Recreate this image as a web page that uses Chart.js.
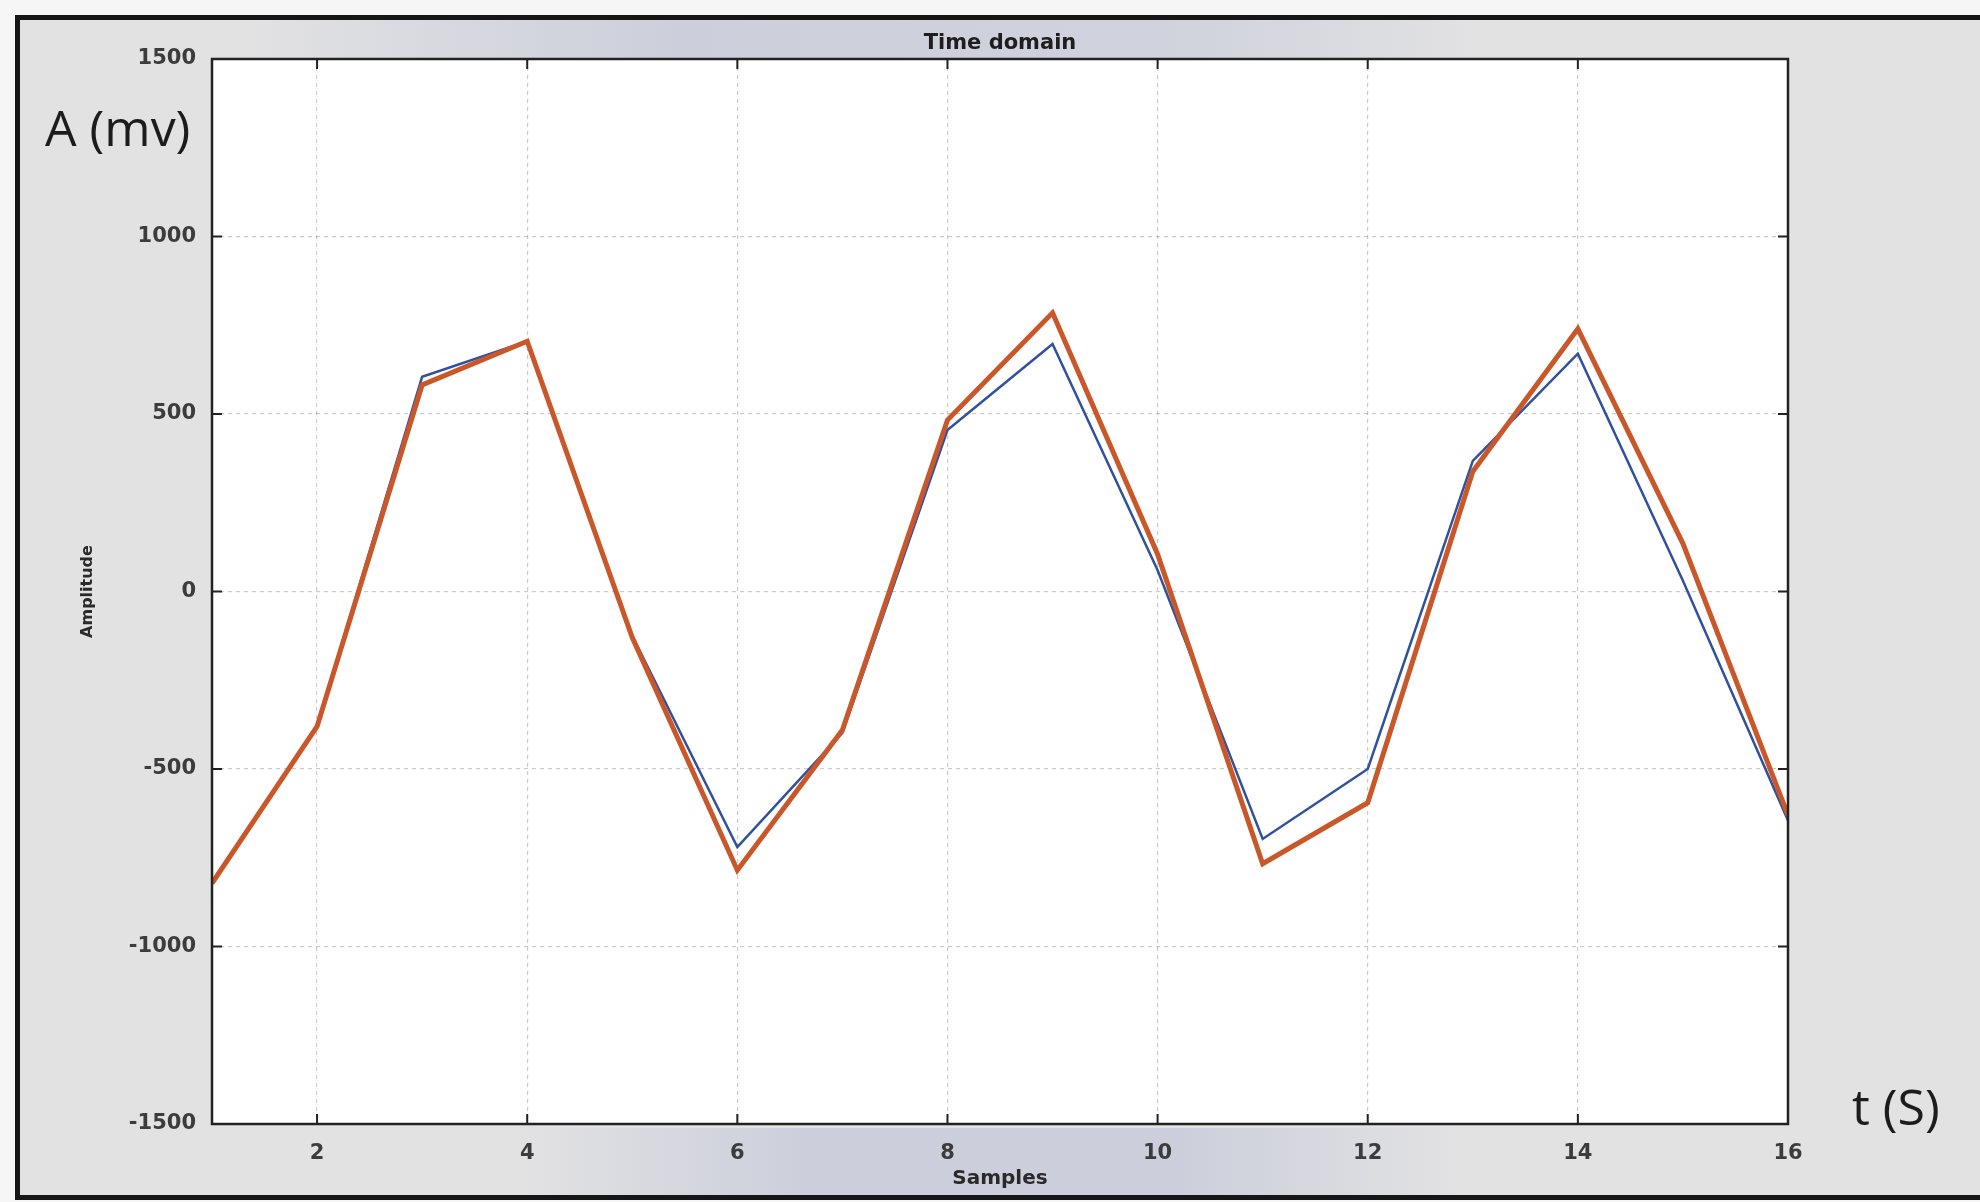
<!DOCTYPE html>
<html>
<head>
<meta charset="utf-8">
<title>Time domain</title>
<script src="https://cdn.jsdelivr.net/npm/chart.js@4/dist/chart.umd.min.js"></script>
<style>
  html, body { margin: 0; padding: 0; background: #fff; overflow: hidden; }
  canvas { display: block; }
</style>
</head>
<body>
<canvas id="chart" width="1980" height="1202"></canvas>
<script>
// samples (x) and the two traces
const samples = [1, 2, 3, 4, 5, 6, 7, 8, 9, 10, 11, 12, 13, 14, 15, 16];
const blueTrace = [-822, -380, 605, 705, -125, -720, -398, 455, 697, 60, -697, -500, 368, 670, 30, -645];
const orangeTrace = [-822, -380, 582, 705, -130, -785, -390, 483, 785, 105, -767, -595, 338, 740, 135, -630];

const xTicks = [1, 2, 4, 6, 8, 10, 12, 14, 16];
const yTicks = [-1500, -1000, -500, 0, 500, 1000, 1500];

const tickFont = { family: 'DejaVu Sans', size: 21, weight: 'bold' };
const gridColor = 'rgba(130, 130, 130, 0.42)';

// paper background, frame, box, inward ticks and the hand-written labels
const paper = {
  id: 'paper',
  beforeDraw(chart) {
    const { ctx, width, height, chartArea: a } = chart;
    ctx.save();
    ctx.fillStyle = '#f6f6f6';
    ctx.fillRect(0, 0, width, height);
    ctx.fillStyle = '#e2e2e3';
    ctx.fillRect(16, 18, width - 16, height - 22);

    // bluish scan bands behind title and x labels
    let g = ctx.createLinearGradient(240, 0, 1480, 0);
    g.addColorStop(0, 'rgba(190, 194, 214, 0)');
    g.addColorStop(0.35, 'rgba(190, 194, 214, 0.6)');
    g.addColorStop(0.75, 'rgba(190, 194, 214, 0.5)');
    g.addColorStop(1, 'rgba(190, 194, 214, 0)');
    ctx.fillStyle = g;
    ctx.fillRect(240, 20, 1240, a.top - 20);

    g = ctx.createLinearGradient(520, 0, 1460, 0);
    g.addColorStop(0, 'rgba(190, 194, 214, 0)');
    g.addColorStop(0.3, 'rgba(190, 194, 214, 0.6)');
    g.addColorStop(0.7, 'rgba(190, 194, 214, 0.6)');
    g.addColorStop(1, 'rgba(190, 194, 214, 0)');
    ctx.fillStyle = g;
    ctx.fillRect(520, a.bottom + 4, 940, height - a.bottom - 10);

    ctx.fillStyle = '#ffffff';
    ctx.fillRect(a.left, a.top, a.right - a.left, a.bottom - a.top);
    ctx.restore();
  },
  afterDraw(chart) {
    const { ctx, width, height, chartArea: a, scales } = chart;
    ctx.save();

    // outer frame
    ctx.strokeStyle = '#161616';
    ctx.lineWidth = 5;
    ctx.beginPath();
    ctx.moveTo(width, 17.5);
    ctx.lineTo(17.5, 17.5);
    ctx.lineTo(17.5, height - 4.5);
    ctx.lineTo(width, height - 4.5);
    ctx.stroke();

    // plot box
    ctx.strokeStyle = '#222';
    ctx.lineWidth = 2.5;
    ctx.strokeRect(a.left, a.top, a.right - a.left, a.bottom - a.top);

    // inward tick marks
    ctx.lineWidth = 2;
    ctx.beginPath();
    yTicks.forEach(v => {
      const y = scales.y.getPixelForValue(v);
      ctx.moveTo(a.left, y); ctx.lineTo(a.left + 10, y);
      ctx.moveTo(a.right, y); ctx.lineTo(a.right - 10, y);
    });
    xTicks.forEach(v => {
      const x = scales.x.getPixelForValue(v);
      ctx.moveTo(x, a.bottom); ctx.lineTo(x, a.bottom - 10);
      ctx.moveTo(x, a.top); ctx.lineTo(x, a.top + 10);
    });
    ctx.stroke();

    // annotation labels
    ctx.fillStyle = '#1c1c1c';
    ctx.font = '50px "Open Sans"';
    ctx.textBaseline = 'middle';
    ctx.textAlign = 'left';
    ctx.fillText('A (mv)', 45, 132);
    ctx.fillText('t (S)', 1852, 1111);
    ctx.restore();
  }
};

const ctx = document.getElementById('chart');

new Chart(ctx, {
  type: 'line',
  data: {
    datasets: [
      {
        label: 'Measured',
        data: samples.map((s, i) => ({ x: s, y: blueTrace[i] })),
        borderColor: '#3051a0',
        borderWidth: 2.5,
        pointRadius: 0,
        tension: 0,
        order: 1
      },
      {
        label: 'Reconstructed',
        data: samples.map((s, i) => ({ x: s, y: orangeTrace[i] })),
        borderColor: '#c9572a',
        borderWidth: 5,
        pointRadius: 0,
        tension: 0,
        order: 0
      }
    ]
  },
  options: {
    responsive: false,
    animation: false,
    layout: { padding: { left: 0, right: 192, top: 0, bottom: 0 } },
    plugins: {
      legend: { display: false },
      tooltip: { enabled: false },
      title: {
        display: true,
        fullSize: false,
        text: 'Time domain',
        color: '#1e1e1e',
        font: { family: 'DejaVu Sans', size: 21, weight: 'bold' },
        padding: { top: 31, bottom: 2.8 }
      }
    },
    scales: {
      x: {
        type: 'linear',
        min: 1,
        max: 16,
        afterBuildTicks: s => { s.ticks = xTicks.map(v => ({ value: v })); },
        afterFit: s => { s.height = 78; },
        ticks: {
          color: '#3c3c3c',
          font: tickFont,
          padding: 17,
          maxRotation: 0,
          callback: v => (v === 1 ? '' : String(v))
        },
        grid: { color: gridColor, lineWidth: 1.2, drawTicks: false },
        border: { display: false, dash: [4, 4] },
        title: {
          display: true,
          text: 'Samples',
          color: '#2a2a2a',
          font: { family: 'DejaVu Sans', size: 20, weight: 'bold' },
          padding: { top: 0, bottom: 11 }
        }
      },
      y: {
        min: -1500,
        max: 1500,
        afterBuildTicks: s => { s.ticks = yTicks.map(v => ({ value: v })); },
        afterFit: s => { s.width = 212; },
        ticks: {
          color: '#3c3c3c',
          font: tickFont,
          padding: 16,
          callback: v => String(v)
        },
        grid: { color: gridColor, lineWidth: 1.2, drawTicks: false },
        border: { display: false, dash: [4, 4] },
        title: {
          display: true,
          text: 'Amplitude',
          color: '#2a2a2a',
          font: { family: 'DejaVu Sans', size: 16, weight: 'bold' },
          padding: { top: 78, bottom: 0 }
        }
      }
    }
  },
  plugins: [paper]
});
</script>
</body>
</html>
